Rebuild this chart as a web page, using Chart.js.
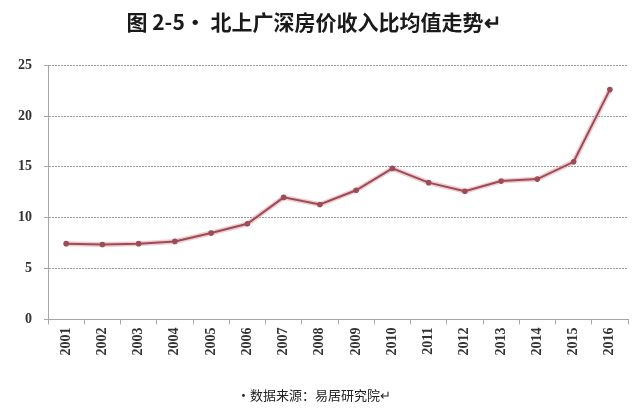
<!DOCTYPE html>
<html>
<head>
<meta charset="utf-8">
<script src="https://cdn.jsdelivr.net/npm/chart.js@4"></script>
<style>
  html, body { margin: 0; padding: 0; background: #fff; }
  #wrap { width: 640px; height: 409px; }
</style>
</head>
<body>
<div id="wrap"><canvas id="ratio"></canvas></div>
<script>
const years = ['2001', '2002', '2003', '2004', '2005', '2006', '2007', '2008',
  '2009', '2010', '2011', '2012', '2013', '2014', '2015', '2016'];
const ratios = [7.45, 7.37, 7.45, 7.67, 8.5, 9.4, 12.0, 11.3,
  12.7, 14.85, 13.45, 12.6, 13.6, 13.8, 15.5, 22.6];
const yTicks = [0, 5, 10, 15, 20, 25];

const titleText = '图 2-5· 北上广深房价收入比均值走势↵';
const sourceText = '·数据来源：易居研究院↵';

const lineColor = 'rgb(156, 76, 86)';
const axisColor = '#a6a6a6';
const tickFont = { family: '"Liberation Serif", "DejaVu Serif", serif', size: 14, weight: 'bold' };

new Chart(document.getElementById('ratio'), {
  type: 'line',
  data: {
    labels: years,
    datasets: [
      // soft pink halo under the line, like the original
      {
        data: ratios,
        borderColor: 'rgba(226, 160, 168, 0.55)',
        borderWidth: 5,
        pointRadius: 0,
        tension: 0,
        order: 2,
      },
      {
        data: ratios,
        borderColor: lineColor,
        backgroundColor: lineColor,
        borderWidth: 2,
        pointRadius: 2.8,
        pointBorderWidth: 0,
        tension: 0,
        order: 1,
      },
    ],
  },
  options: {
    responsive: true,
    maintainAspectRatio: false,
    animation: false,
    layout: { padding: { left: 0, right: 12, top: 0, bottom: 6 } },
    plugins: {
      legend: { display: false },
      tooltip: { enabled: false },
      title: {
        display: true,
        text: titleText,
        color: '#1a1a1a',
        font: { family: '"Noto Sans CJK SC", serif', size: 21, weight: 'bold' },
        padding: { top: 9, bottom: 31 },
      },
      subtitle: {
        display: true,
        position: 'bottom',
        text: sourceText,
        color: '#222',
        font: { family: '"Noto Sans CJK SC", serif', size: 13 },
        padding: { top: 18, bottom: 0 },
      },
    },
    scales: {
      x: {
        offset: true,
        grid: { display: true, drawOnChartArea: false, drawTicks: true, tickLength: 5, color: axisColor, offset: true },
        border: { color: axisColor, width: 1 },
        ticks: { color: '#333', font: tickFont, minRotation: 90, maxRotation: 90, padding: 3, autoSkip: false },
        afterFit: (s) => { s.height = 50; },
      },
      y: {
        min: 0,
        max: 25,
        afterBuildTicks: (s) => { s.ticks = yTicks.map((v) => ({ value: v })); },
        grid: { color: '#9a9a9a', lineWidth: 1, drawTicks: true, tickLength: 4, tickColor: axisColor },
        border: { color: axisColor, width: 1, dash: [2, 1] },
        ticks: { color: '#333', font: tickFont, padding: 12 },
        afterFit: (s) => { s.width = 48; },
      },
    },
  },
});
</script>
</body>
</html>
